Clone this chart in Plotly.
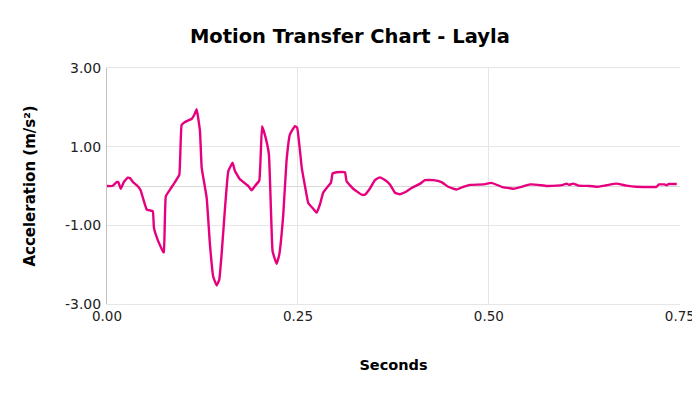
import plotly.graph_objects as go

seconds = [0.000, 0.007, 0.0127, 0.0148, 0.018, 0.022, 0.027, 0.030, 0.034, 0.040,
           0.044, 0.0476, 0.052, 0.056, 0.060, 0.0615, 0.067, 0.0737, 0.0745, 0.077,
           0.0825, 0.089, 0.0947, 0.0977, 0.102, 0.111, 0.114, 0.1174, 0.1217, 0.124,
           0.1305, 0.1348, 0.139, 0.1436, 0.147, 0.150, 0.1545, 0.1588, 0.1645, 0.1675,
           0.174, 0.185, 0.1894, 0.1937, 0.1994, 0.203, 0.2077, 0.212, 0.2147, 0.2168,
           0.222, 0.2255, 0.2308, 0.235, 0.2395, 0.246, 0.249, 0.255, 0.2592, 0.2635,
           0.270, 0.2745, 0.2788, 0.283, 0.2897, 0.2932, 0.2954, 0.3007, 0.3115, 0.3137,
           0.3224, 0.3333, 0.3377, 0.344, 0.3508, 0.3573, 0.364, 0.3704, 0.377, 0.3835,
           0.390, 0.3988, 0.410, 0.4162, 0.427, 0.438, 0.4467, 0.4577, 0.4664, 0.4751,
           0.4926, 0.5035, 0.5166, 0.5318, 0.5428, 0.5537, 0.5645, 0.5755, 0.5886, 0.597,
           0.6017, 0.605, 0.6105, 0.617, 0.632, 0.643, 0.654, 0.667, 0.680, 0.693,
           0.7195, 0.7225, 0.730, 0.7325, 0.7356, 0.746]
acceleration = [0.00, 0.00, 0.10, 0.10, -0.07, 0.10, 0.21, 0.20, 0.10, 0.00,
                -0.11, -0.34, -0.60, -0.62, -0.64, -1.07, -1.40, -1.68, -1.68, -0.26,
                -0.09, 0.10, 0.29, 1.55, 1.63, 1.71, 1.80, 1.95, 1.40, 0.46,
                -0.30, -1.49, -2.30, -2.53, -2.38, -1.75, -0.56, 0.38, 0.59, 0.38,
                0.17, 0.00, -0.11, 0.00, 0.14, 1.52, 1.23, 0.80, -0.64, -1.66,
                -1.98, -1.75, -0.73, 0.63, 1.31, 1.52, 1.48, 0.46, 0.00, -0.43,
                -0.58, -0.68, -0.47, -0.17, 0.00, 0.08, 0.32, 0.35, 0.35, 0.12,
                -0.07, -0.22, -0.22, -0.07, 0.15, 0.22, 0.15, 0.04, -0.17, -0.21,
                -0.16, -0.05, 0.06, 0.15, 0.15, 0.10, -0.02, -0.09, -0.02, 0.03,
                0.04, 0.08, -0.02, -0.07, -0.02, 0.04, 0.03, 0.00, 0.01, 0.03,
                0.06, 0.03, 0.06, 0.01, 0.00, -0.02, 0.02, 0.06, 0.01, -0.02,
                -0.02, 0.04, 0.04, 0.02, 0.05, 0.05]

x_ticks = [0.0, 0.25, 0.5, 0.75]
x_tick_labels = ["0.00", "0.25", "0.50", "0.75"]
y_ticks = [-3, -1, 1, 3]
y_tick_labels = ["-3.00", "-1.00", "1.00", "3.00"]

fig = go.Figure()
fig.add_trace(go.Scatter(
    x=seconds, y=acceleration, mode="lines",
    line=dict(color="#E6007E", width=2.4, shape="spline", smoothing=0.3),
    hoverinfo="x+y", showlegend=False,
))

font_family = "DejaVu Sans, Verdana, sans-serif"
fig.update_layout(
    width=692, height=386,
    paper_bgcolor="white", plot_bgcolor="white",
    margin=dict(l=99, r=20, t=60, b=90, autoexpand=False),
    title=dict(text="<b>Motion Transfer Chart - Layla</b>", x=0.494, xanchor="center",
               xref="container", yref="container", y=0.927, yanchor="middle",
               font=dict(family=font_family, size=19.5, color="#000000")),
    font=dict(family=font_family, size=14, color="#222222"),
)
fig.update_xaxes(
    range=[0, 0.7502], tickvals=x_ticks, ticktext=x_tick_labels,
    showgrid=True, gridcolor="#E6E6E6", gridwidth=1,
    showline=True, mirror=True, linecolor="#E6E6E6", linewidth=1,
    zeroline=False, ticks="", automargin=False,
    title=dict(text="<b>Seconds</b>", font=dict(family=font_family, size=14.5, color="#000000"),
               standoff=36),
    tickfont=dict(size=13.5, color="#222222"),
)
fig.update_yaxes(
    range=[-3, 3], tickvals=y_ticks, ticktext=y_tick_labels,
    showgrid=True, gridcolor="#E6E6E6", gridwidth=1,
    zeroline=True, zerolinecolor="#D9D9D9", zerolinewidth=1,
    showline=True, linecolor="#BFBFBF", linewidth=1, ticks="", automargin=False,
    ticklabelstandoff=2,
    title=dict(text="<b>Acceleration (m/s²)</b>", font=dict(family=font_family, size=15, color="#000000"),
               standoff=25),
    tickfont=dict(size=14, color="#222222"),
)

fig.write_html("out.html")
